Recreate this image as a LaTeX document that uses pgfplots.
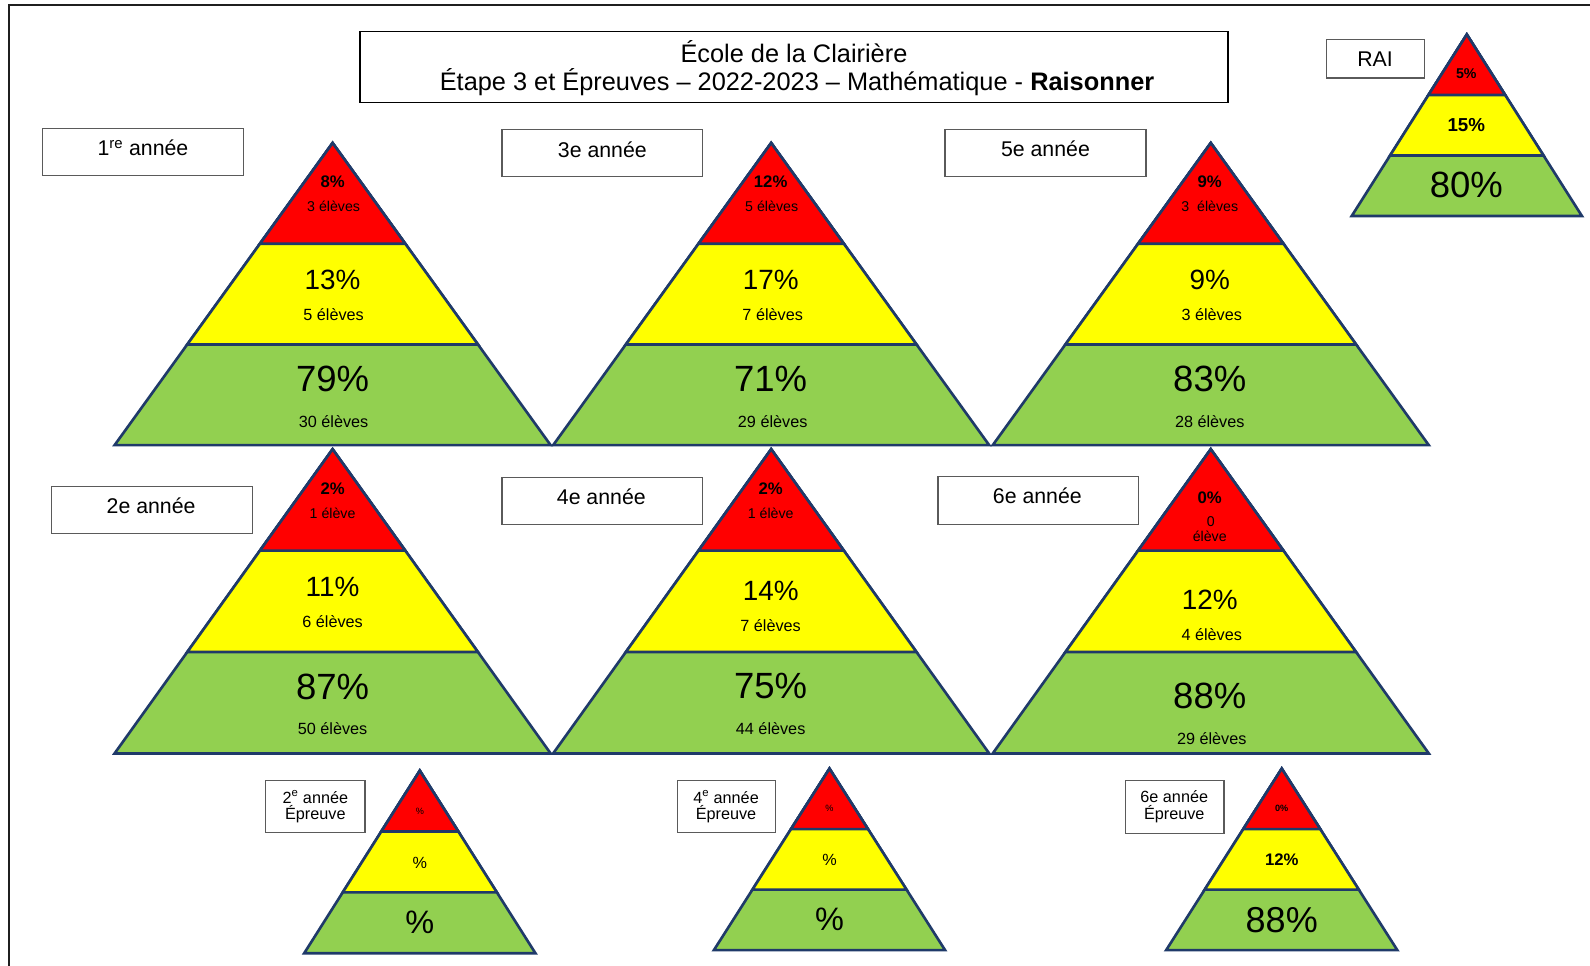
\documentclass[border=0pt]{standalone}
\usepackage{pgfplots}
\pgfplotsset{compat=1.18}
\usepackage{fontspec}
\setmainfont{Liberation Sans}
\definecolor{pred}{RGB}{255,0,0}
\definecolor{pyel}{RGB}{255,255,0}
\definecolor{pgrn}{RGB}{146,208,80}
\definecolor{outl}{RGB}{31,58,105}
\definecolor{boxc}{RGB}{90,90,90}
\newcommand{\T}[4]{\node[font=\fontsize{#3}{#3}\selectfont,inner sep=0pt,align=center] at (axis cs:#1,#2) {#4};}
\newcommand{\B}[4]{\draw[boxc,line width=1.3pt] (axis cs:#1,#2) rectangle (axis cs:#3,#4);}
\begin{document}
\begin{tikzpicture}
\begin{axis}[scale only axis, width=1568pt, height=952.6pt,
  xmin=0, xmax=1568, ymin=0, ymax=952.6, y dir=reverse,
  hide axis, clip=false, no markers,
  g/.style={fill=pgrn, draw=outl, line width=2.6pt, line join=miter},
  y/.style={fill=pyel, draw=outl, line width=2.6pt, line join=miter},
  r/.style={fill=pred, draw=outl, line width=2.6pt, line join=miter}]
% page background
\addplot[fill=white, draw=none] coordinates {(0,0)(1568,0)(1568,952.6)(0,952.6)} -- cycle;
% outer frame
\addplot[draw=black!88, line width=1.8pt] coordinates {(9,952.6)(9,5)(1568,5)};

% ---------- Row 1 ----------
\addplot[g] coordinates {(328,141)(543,439)(113,439)} -- cycle;
\addplot[y] coordinates {(328,141)(471.33,339.67)(184.67,339.67)} -- cycle;
\addplot[r] coordinates {(328,141)(399.67,240.33)(256.33,240.33)} -- cycle;
\addplot[g] coordinates {(760.5,141)(975.5,439)(545.5,439)} -- cycle;
\addplot[y] coordinates {(760.5,141)(903.83,339.67)(617.17,339.67)} -- cycle;
\addplot[r] coordinates {(760.5,141)(832.17,240.33)(688.83,240.33)} -- cycle;
\addplot[g] coordinates {(1194,141)(1409,439)(979,439)} -- cycle;
\addplot[y] coordinates {(1194,141)(1337.33,339.67)(1050.67,339.67)} -- cycle;
\addplot[r] coordinates {(1194,141)(1265.67,240.33)(1122.33,240.33)} -- cycle;

% ---------- Row 2 ----------
\addplot[g] coordinates {(328,443)(543,743)(113,743)} -- cycle;
\addplot[y] coordinates {(328,443)(471.33,643)(184.67,643)} -- cycle;
\addplot[r] coordinates {(328,443)(399.67,543)(256.33,543)} -- cycle;
\addplot[g] coordinates {(760.5,443)(975.5,743)(545.5,743)} -- cycle;
\addplot[y] coordinates {(760.5,443)(903.83,643)(617.17,643)} -- cycle;
\addplot[r] coordinates {(760.5,443)(832.17,543)(688.83,543)} -- cycle;
\addplot[g] coordinates {(1194,443)(1409,743)(979,743)} -- cycle;
\addplot[y] coordinates {(1194,443)(1337.33,643)(1050.67,643)} -- cycle;
\addplot[r] coordinates {(1194,443)(1265.67,543)(1122.33,543)} -- cycle;

% ---------- RAI ----------
\addplot[g] coordinates {(1446.5,34)(1560,213)(1333,213)} -- cycle;
\addplot[y] coordinates {(1446.5,34)(1522.17,153.33)(1370.83,153.33)} -- cycle;
\addplot[r] coordinates {(1446.5,34)(1484.33,93.67)(1408.67,93.67)} -- cycle;

% ---------- Epreuves ----------
\addplot[g] coordinates {(414,760)(528,940)(300,940)} -- cycle;
\addplot[y] coordinates {(414,760)(490,880)(338,880)} -- cycle;
\addplot[r] coordinates {(414,760)(452,820)(376,820)} -- cycle;
\addplot[g] coordinates {(818,758)(932,937)(704,937)} -- cycle;
\addplot[y] coordinates {(818,758)(894,877.33)(742,877.33)} -- cycle;
\addplot[r] coordinates {(818,758)(856,817.67)(780,817.67)} -- cycle;
\addplot[g] coordinates {(1264,758)(1378,937)(1150,937)} -- cycle;
\addplot[y] coordinates {(1264,758)(1340,877.33)(1188,877.33)} -- cycle;
\addplot[r] coordinates {(1264,758)(1302,817.67)(1226,817.67)} -- cycle;

% ---------- Title ----------
\draw[black,line width=1.2pt] (axis cs:355,31) rectangle (axis cs:1211,101);
\T{783}{51}{25}{École de la Clairière}
\T{786}{81}{25}{Étape 3 et Épreuves – 2022-2023 – Mathématique - \textbf{Raisonner}}

% ---------- Label boxes ----------
\B{42}{127}{240}{173}   \T{141}{146}{21}{1\textsuperscript{re} année}
\B{495}{128}{693}{174}  \T{594}{148}{21}{3e année}
\B{932}{128}{1130}{174} \T{1031}{147}{21}{5e année}
\B{51}{480}{249}{526}   \T{149}{499}{21}{2e année}
\B{495}{471}{693}{517}  \T{593}{490}{21}{4e année}
\B{925}{470}{1123}{517} \T{1023}{489}{21}{6e année}
\B{1308}{39}{1405}{77}  \T{1356}{58}{21}{RAI}
\B{262}{770}{360}{821}  \T{311}{786}{16}{2\textsuperscript{e} année}  \T{311}{803}{16}{Épreuve}
\B{668}{770}{765}{821}  \T{716}{786}{16}{4\textsuperscript{e} année}  \T{716}{803}{16}{Épreuve}
\B{1110}{770}{1207}{822} \T{1158}{786}{16}{6e année}  \T{1158}{803}{16}{Épreuve}

% ---------- Texts row 1 ----------
\T{328}{179}{16.5}{\bfseries 8\%}
\T{329}{203}{14}{3 élèves}
\T{328}{276}{27.5}{13\%}
\T{329}{310}{16}{5 élèves}
\T{328}{374}{36}{79\%}
\T{329}{416}{16}{30 élèves}

\T{760}{179}{16.5}{\bfseries 12\%}
\T{761}{203}{14}{5 élèves}
\T{760}{276}{27.5}{17\%}
\T{762}{310}{16}{7 élèves}
\T{760}{374}{36}{71\%}
\T{762}{416}{16}{29 élèves}

\T{1193}{179}{16.5}{\bfseries 9\%}
\T{1193}{203}{14}{3\ \ élèves}
\T{1193}{276}{27.5}{9\%}
\T{1195}{310}{16}{3 élèves}
\T{1193}{374}{36}{83\%}
\T{1193}{416}{16}{28 élèves}

% ---------- Texts row 2 ----------
\T{328}{482}{16.5}{\bfseries 2\%}
\T{328}{506}{14}{1 élève}
\T{328}{579}{27.5}{11\%}
\T{328}{613}{16}{6 élèves}
\T{328}{677}{36}{87\%}
\T{328}{719}{16}{50 élèves}

\T{760}{482}{16.5}{\bfseries 2\%}
\T{760}{506}{14}{1 élève}
\T{760}{583}{27.5}{14\%}
\T{760}{617}{16}{7 élèves}
\T{760}{677}{36}{75\%}
\T{760}{719}{16}{44 élèves}

\T{1193}{491}{16.5}{\bfseries 0\%}
\T{1194}{514}{14}{0}
\T{1193}{529}{14}{élève}
\T{1193}{592}{27.5}{12\%}
\T{1195}{626}{16}{4 élèves}
\T{1193}{686}{36}{88\%}
\T{1195}{728}{16}{29 élèves}

% ---------- RAI texts ----------
\T{1446}{73}{14}{\bfseries 5\%}
\T{1446}{123}{18.5}{\bfseries 15\%}
\T{1446}{182}{36}{80\%}

% ---------- Epreuve texts ----------
\T{414}{800}{9}{\%}
\T{414}{851}{16}{\%}
\T{414}{910}{32}{\%}
\T{818}{797}{9}{\%}
\T{818}{848}{16}{\%}
\T{818}{907}{32}{\%}
\T{1264}{797}{9}{\bfseries 0\%}
\T{1264}{848}{16.5}{\bfseries 12\%}
\T{1264}{907}{35.5}{88\%}
\end{axis}
\pgfresetboundingbox
\path (current axis.south west) rectangle (current axis.north east);
\end{tikzpicture}
\end{document}
